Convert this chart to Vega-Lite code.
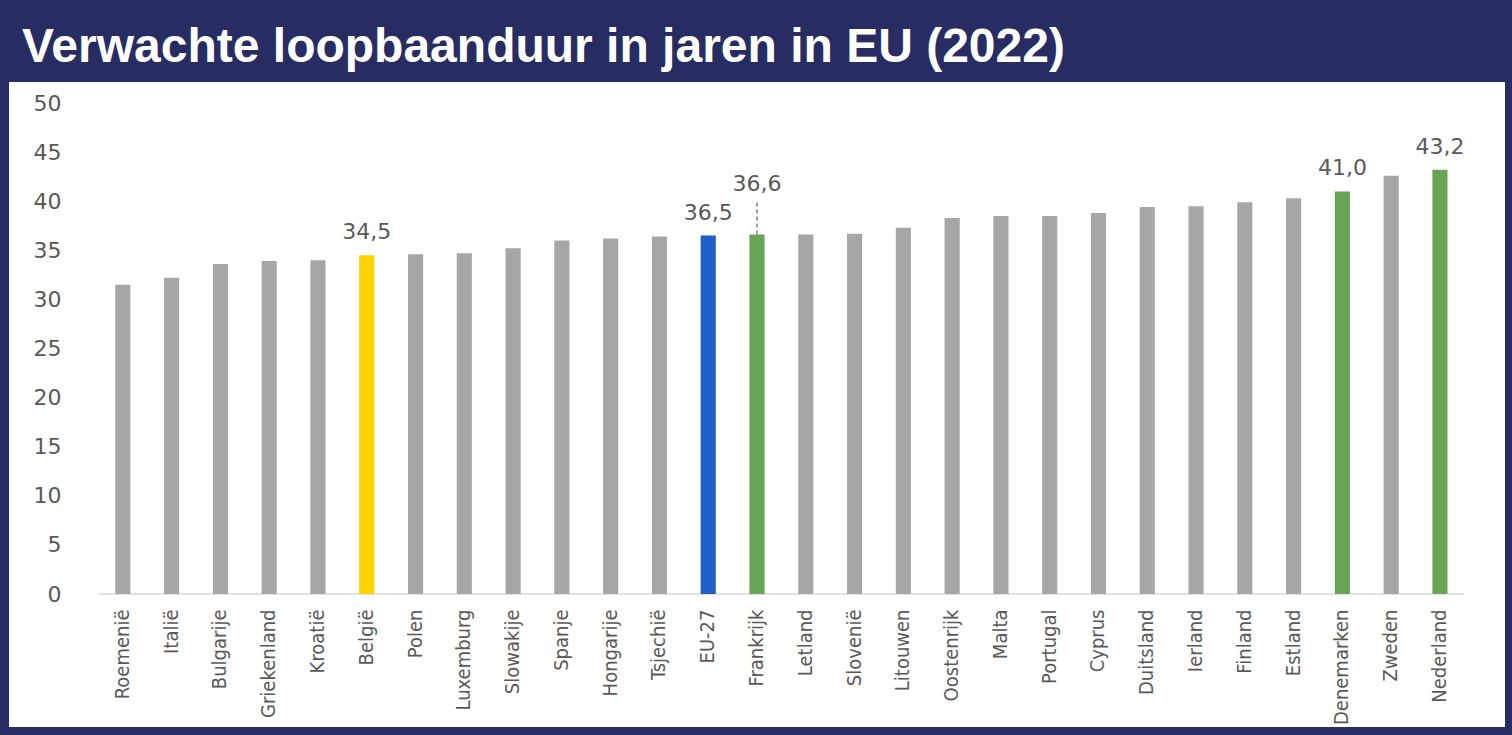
{
  "$schema": "https://vega.github.io/schema/vega-lite/v6.json",
  "width": 1512,
  "height": 735,
  "autosize": {"type": "fit", "contains": "padding"},
  "padding": {"left": 9, "right": 7, "top": 24, "bottom": 8},
  "background": "#272c62",
  "view": {"fill": "#ffffff", "stroke": null},
  "title": {
    "text": "Verwachte loopbaanduur in jaren in EU (2022)",
    "anchor": "start",
    "font": "Liberation Sans",
    "fontSize": 48,
    "fontWeight": "bold",
    "color": "#ffffff",
    "dx": 13,
    "offset": 10
  },
  "data": {
    "values": [
      {"land": "Roemenië", "jaren": 31.5, "groep": "overig", "label": ""},
      {"land": "Italië", "jaren": 32.2, "groep": "overig", "label": ""},
      {"land": "Bulgarije", "jaren": 33.6, "groep": "overig", "label": ""},
      {"land": "Griekenland", "jaren": 33.9, "groep": "overig", "label": ""},
      {"land": "Kroatië", "jaren": 34.0, "groep": "overig", "label": ""},
      {"land": "België", "jaren": 34.5, "groep": "België", "label": "34,5"},
      {"land": "Polen", "jaren": 34.6, "groep": "overig", "label": ""},
      {"land": "Luxemburg", "jaren": 34.7, "groep": "overig", "label": ""},
      {"land": "Slowakije", "jaren": 35.2, "groep": "overig", "label": ""},
      {"land": "Spanje", "jaren": 36.0, "groep": "overig", "label": ""},
      {"land": "Hongarije", "jaren": 36.2, "groep": "overig", "label": ""},
      {"land": "Tsjechië", "jaren": 36.4, "groep": "overig", "label": ""},
      {"land": "EU-27", "jaren": 36.5, "groep": "EU", "label": "36,5"},
      {"land": "Frankrijk", "jaren": 36.6, "groep": "uitgelicht", "label": "36,6"},
      {"land": "Letland", "jaren": 36.6, "groep": "overig", "label": ""},
      {"land": "Slovenië", "jaren": 36.7, "groep": "overig", "label": ""},
      {"land": "Litouwen", "jaren": 37.3, "groep": "overig", "label": ""},
      {"land": "Oostenrijk", "jaren": 38.3, "groep": "overig", "label": ""},
      {"land": "Malta", "jaren": 38.5, "groep": "overig", "label": ""},
      {"land": "Portugal", "jaren": 38.5, "groep": "overig", "label": ""},
      {"land": "Cyprus", "jaren": 38.8, "groep": "overig", "label": ""},
      {"land": "Duitsland", "jaren": 39.4, "groep": "overig", "label": ""},
      {"land": "Ierland", "jaren": 39.5, "groep": "overig", "label": ""},
      {"land": "Finland", "jaren": 39.9, "groep": "overig", "label": ""},
      {"land": "Estland", "jaren": 40.3, "groep": "overig", "label": ""},
      {"land": "Denemarken", "jaren": 41.0, "groep": "uitgelicht", "label": "41,0"},
      {"land": "Zweden", "jaren": 42.6, "groep": "overig", "label": ""},
      {"land": "Nederland", "jaren": 43.2, "groep": "uitgelicht", "label": "43,2"}
    ]
  },
  "layer": [
    {
      "data": {"values": [{}]},
      "mark": {"type": "rule", "color": "#d9d9d9", "strokeWidth": 1.5},
      "encoding": {
        "x": {"datum": "Roemenië", "type": "nominal", "bandPosition": -0.25},
        "x2": {"datum": "Nederland", "bandPosition": 1.25},
        "y": {"datum": 0, "type": "quantitative"}
      }
    },
    {
      "mark": {"type": "bar", "width": {"band": 0.465}},
      "encoding": {
        "x": {
          "field": "land",
          "type": "nominal",
          "sort": null,
          "scale": {
            "domain": ["", "Roemenië", "Italië", "Bulgarije", "Griekenland", "Kroatië", "België", "Polen", "Luxemburg", "Slowakije", "Spanje", "Hongarije", "Tsjechië", "EU-27", "Frankrijk", "Letland", "Slovenië", "Litouwen", "Oostenrijk", "Malta", "Portugal", "Cyprus", "Duitsland", "Ierland", "Finland", "Estland", "Denemarken", "Zweden", "Nederland"],
            "paddingInner": 0.333,
            "paddingOuter": 1
          },
          "axis": {
            "title": null,
            "offset": -133,
            "domain": false,
            "ticks": false,
            "labelAngle": -90,
            "labelAlign": "right",
            "labelBaseline": "middle",
            "labelPadding": 15,
            "labelOverlap": false,
            "labelFont": "DejaVu Sans Condensed, Roboto Condensed, Liberation Sans Narrow, sans-serif",
            "labelFontSize": 20,
            "labelColor": "#595959"
          }
        },
        "y": {
          "field": "jaren",
          "type": "quantitative",
          "scale": {"domain": [-13.54, 52.14], "nice": false, "zero": false},
          "axis": {
            "title": null,
            "values": [0, 5, 10, 15, 20, 25, 30, 35, 40, 45, 50],
            "grid": false,
            "domain": false,
            "ticks": false,
            "labelPadding": 0,
            "offset": -52,
            "labelFont": "DejaVu Sans",
            "labelFontSize": 22,
            "labelColor": "#595959"
          }
        },
        "y2": {"datum": 0},
        "color": {
          "field": "groep",
          "type": "nominal",
          "scale": {"domain": ["overig", "België", "EU", "uitgelicht"], "range": ["#a6a6a6", "#ffd200", "#1f5fc7", "#6aa556"]},
          "legend": null
        }
      }
    },
    {
      "transform": [{"filter": "datum.label != '' && datum.land != 'Frankrijk'"}],
      "mark": {"type": "text", "baseline": "alphabetic", "dy": -16, "font": "DejaVu Sans", "fontSize": 22, "color": "#595959"},
      "encoding": {
        "x": {"field": "land", "type": "nominal", "sort": null},
        "y": {"field": "jaren", "type": "quantitative"},
        "text": {"field": "label"}
      }
    },
    {
      "transform": [{"filter": "datum.land == 'Frankrijk'"}],
      "mark": {"type": "rule", "color": "#7f7f7f", "strokeWidth": 1.5, "strokeDash": [4, 3]},
      "encoding": {
        "x": {"field": "land", "type": "nominal", "sort": null},
        "y": {"field": "jaren", "type": "quantitative"},
        "y2": {"datum": 40.1}
      }
    },
    {
      "transform": [{"filter": "datum.land == 'Frankrijk'"}],
      "mark": {"type": "text", "baseline": "alphabetic", "dy": -44, "font": "DejaVu Sans", "fontSize": 22, "color": "#595959"},
      "encoding": {
        "x": {"field": "land", "type": "nominal", "sort": null},
        "y": {"field": "jaren", "type": "quantitative"},
        "text": {"field": "label"}
      }
    }
  ]
}
